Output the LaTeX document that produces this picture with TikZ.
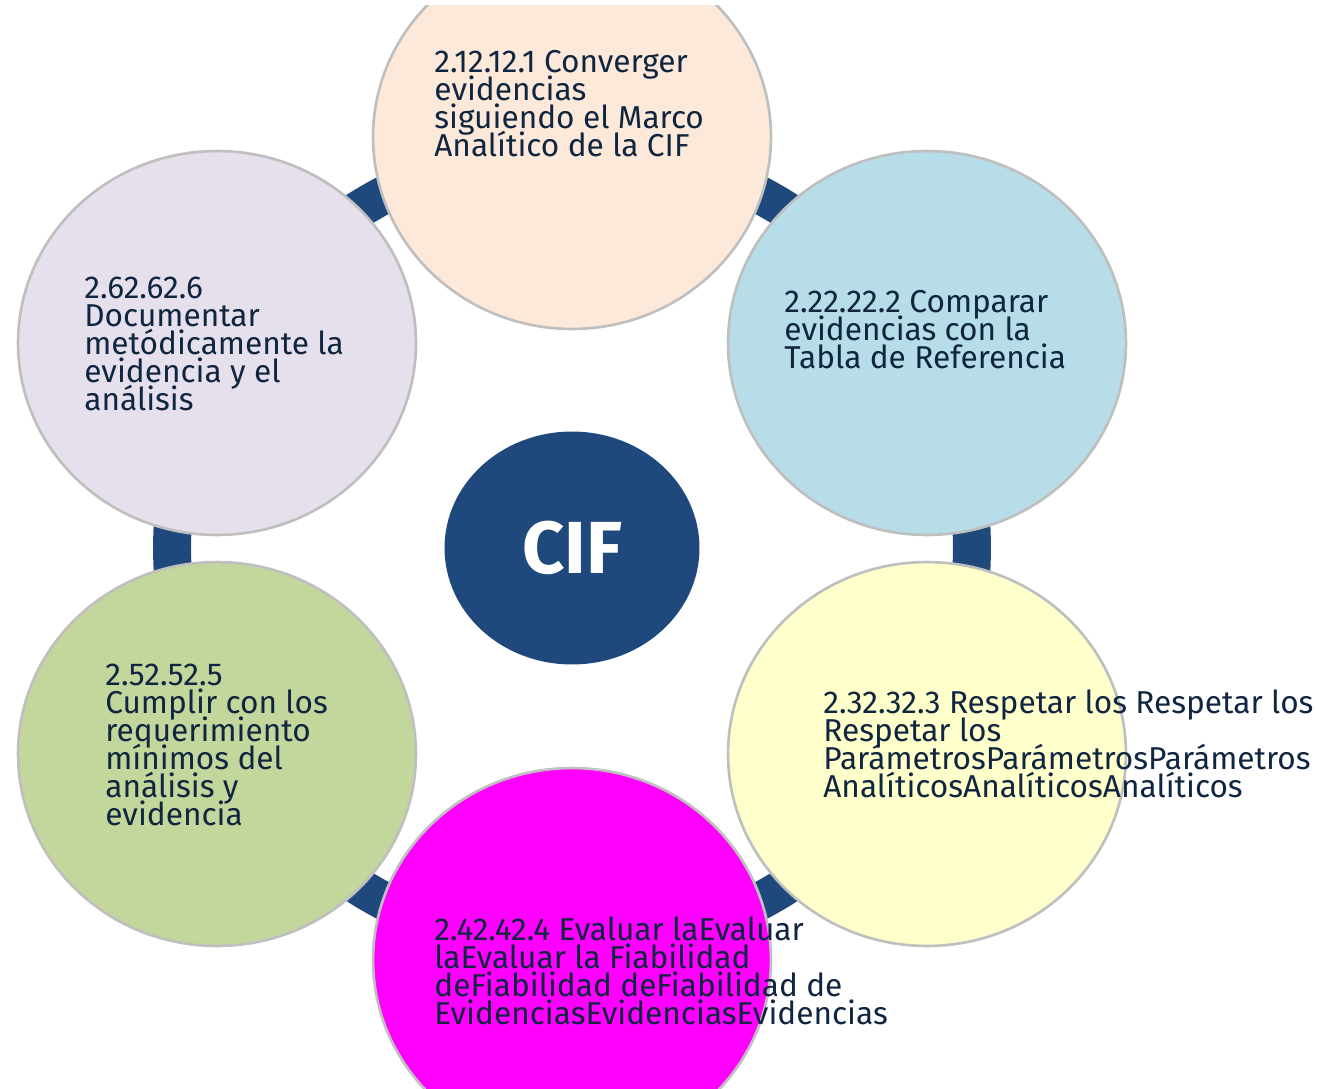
\documentclass[tikz,border=0pt]{standalone}
\usepackage{fontspec}
\setmainfont{Fira Sans}
\usetikzlibrary{shapes.geometric}

\definecolor{azulCIF}{HTML}{1F497D}
\definecolor{textoAzul}{HTML}{10253F}
\definecolor{bordeGris}{HTML}{BFBFBF}
\definecolor{melocoton}{HTML}{FDE9D9}
\definecolor{celeste}{HTML}{B7DDE8}
\definecolor{amarillo}{HTML}{FFFFCC}
\definecolor{fucsia}{HTML}{FF00FF}
\definecolor{verde}{HTML}{C3D69B}
\definecolor{lavanda}{HTML}{E5E0EC}

\newcommand{\fuenteburbuja}{\fontsize{18pt}{15.9pt}\selectfont\lineskiplimit=-100pt\relax}

\tikzset{
  burbuja/.style={ellipse, draw=bordeGris, line width=1.5pt, minimum width=7.96cm, minimum height=7.68cm},
  texto/.style={anchor=base west, align=left, inner sep=0pt, text=textoAzul, font=\fuenteburbuja}
}

\begin{document}
\begin{tikzpicture}[x=0.02cm, y=-0.02cm]
  \useasboundingbox (0,0) rectangle (1317,1088);
  \clip (0,6) rectangle (1317,1088);

  % Anillo
  \coordinate (centro) at (572,548);
  \draw[azulCIF, line width=0.76cm] (centro) circle (8cm);

  % Burbujas
  \node[burbuja, fill=melocoton] (b1) at (572,137) {};
  \node[burbuja, fill=celeste]   (b2) at (927,343) {};
  \node[burbuja, fill=amarillo]  (b3) at (927,754) {};
  \node[burbuja, fill=fucsia]    (b4) at (572,960) {};
  \node[burbuja, fill=verde]     (b5) at (217,754) {};
  \node[burbuja, fill=lavanda]   (b6) at (217,343) {};

  % Centro
  \node[ellipse, fill=azulCIF, minimum width=5.1cm, minimum height=4.66cm,
    text=white, font=\fontsize{42pt}{42pt}\selectfont\bfseries] (cif) at (centro) {CIF};

  % Textos (anclados en la linea base de la ultima linea)
  \node[texto] (t1) at (434,156) {2.12.12.1 Converger\\evidencias\\siguiendo el Marco\\Analítico de la CIF};
  \node[texto] (t2) at (784,368) {2.22.22.2 Comparar\\evidencias con la\\Tabla de Referencia};
  \node[texto] (t3) at (823,797) {2.32.32.3 Respetar los Respetar los\\Respetar los\\ParámetrosParámetrosParámetros\\AnalíticosAnalíticosAnalíticos};
  \node[texto] (t4) at (434,1024) {2.42.42.4 Evaluar laEvaluar\\laEvaluar la Fiabilidad\\deFiabilidad deFiabilidad de\\EvidenciasEvidenciasEvidencias};
  \node[texto] (t5) at (105,825) {2.52.52.5\\Cumplir con los\\requerimiento\\mínimos del\\análisis y\\evidencia};
  \node[texto] (t6) at (84,410) {2.62.62.6\\Documentar\\metódicamente la\\evidencia y el\\análisis};
\end{tikzpicture}
\end{document}
